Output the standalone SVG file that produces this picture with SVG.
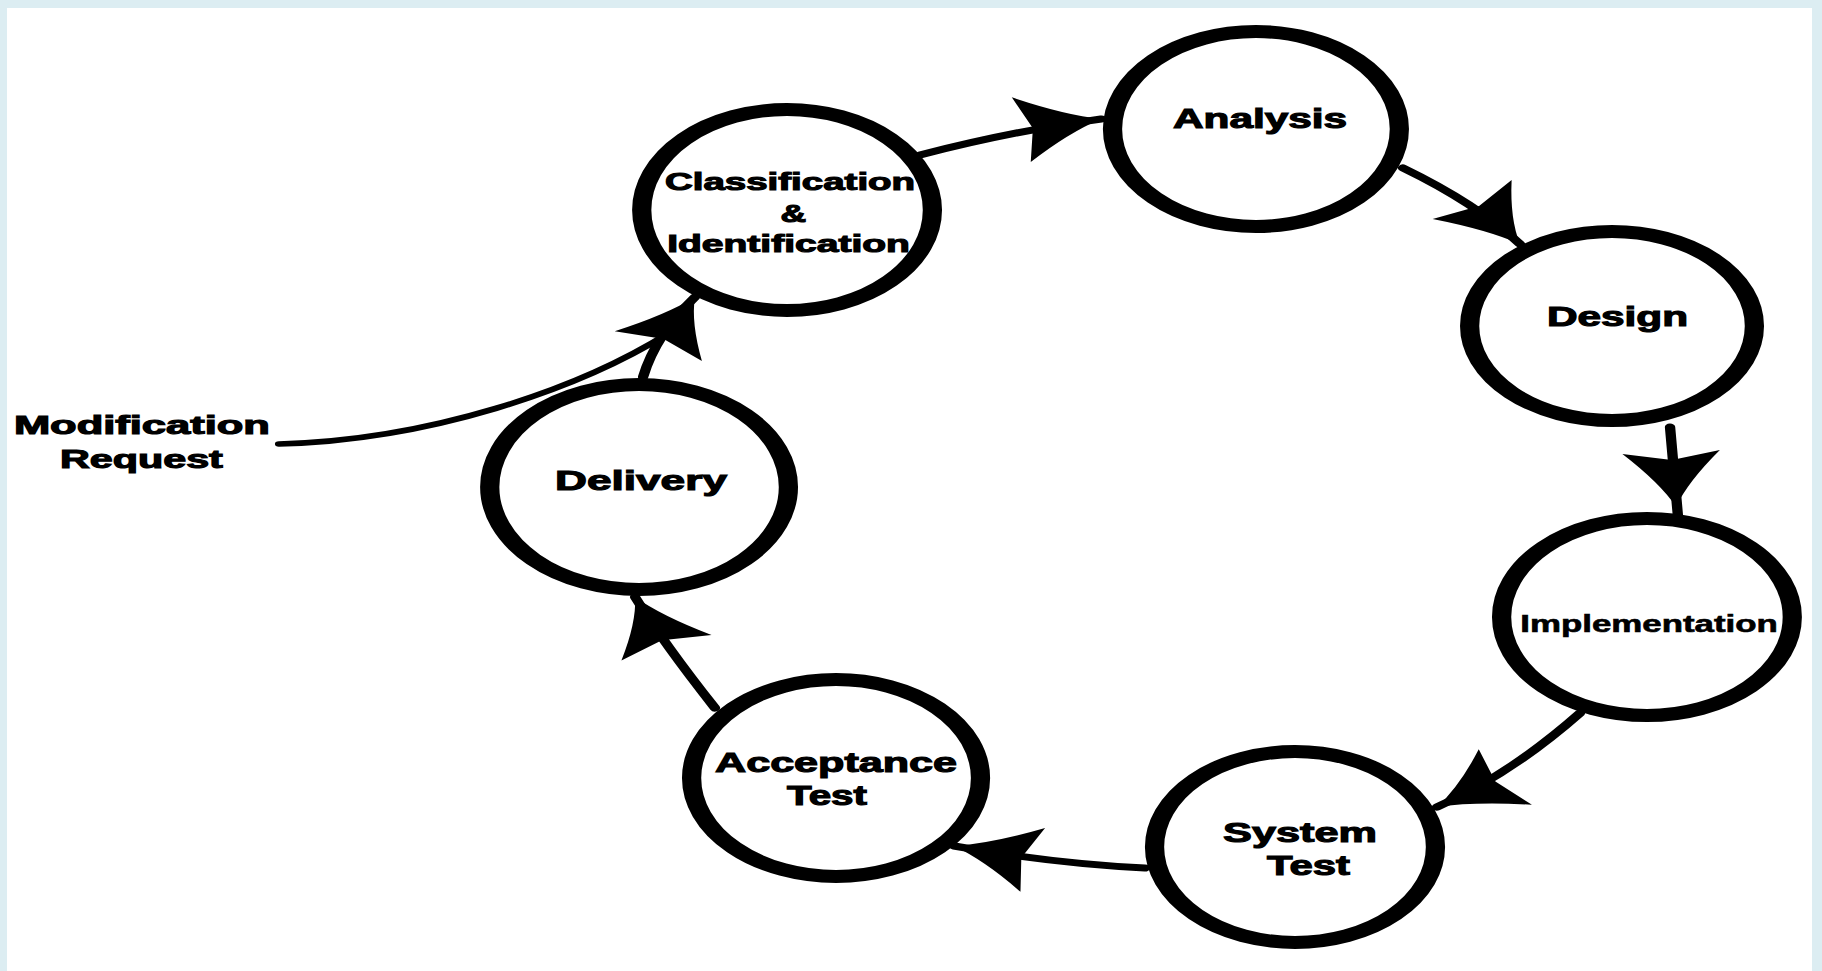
<svg xmlns="http://www.w3.org/2000/svg" xmlns:xlink="http://www.w3.org/1999/xlink" width="1822" height="971" viewBox="0 0 1822 971">
<style>
.node{fill:#fff;stroke:#000;stroke-width:13}
.edge{fill:none;stroke:#000;stroke-width:7;stroke-linecap:round}
.head{fill:#000;stroke:none}
.lbl{font-family:"Liberation Sans",Arial,sans-serif;font-weight:bold;font-size:27px;fill:#000;stroke:#000;stroke-width:1.1;text-anchor:middle}
.sm{font-size:24px}
</style>
<defs>
<path id="ah" d="M0,0 Q-24,-9 -55,-33 L-47,0 L-55,33 Q-24,9 0,0 Z"/>
</defs>
<rect width="1822" height="971" fill="#dcedf2"/>
<rect x="7" y="8" width="1805" height="963" fill="#fff"/>
<g transform="scale(1.48,1)">
<g id="connectors">
<path class="edge" d="M621.6,155 Q685.1,130.7 744,119"/>
<use class="head" xlink:href="#ah" transform="translate(744,119) rotate(-11.2)"/>
<path class="edge" d="M948,168 Q997.6,203.5 1027,244"/>
<use class="head" xlink:href="#ah" transform="translate(1027,244) rotate(54)"/>
<path class="edge" d="M1128.4,427 L1133.8,517"/>
<use class="head" xlink:href="#ah" transform="translate(1132.5,507) rotate(86.5)"/>
<path class="edge" d="M1067.6,713 Q1020,775 971,807"/>
<use class="head" xlink:href="#ah" transform="translate(971,807) rotate(147)"/>
<path class="edge" d="M773.6,868 Q712.4,863.6 644.6,846"/>
<use class="head" xlink:href="#ah" transform="translate(644.6,846) rotate(194.6)"/>
<path class="edge" d="M483.1,708 Q448.4,643.1 429.1,597"/>
<use class="head" xlink:href="#ah" transform="translate(429.1,597) rotate(-112.7)"/>
<path class="edge" d="M434.5,377 Q443,335 469.6,297"/>
<use class="head" xlink:href="#ah" transform="translate(469.6,297) rotate(-63.2)"/>
<path class="edge" style="stroke-width:5.5" d="M188.5,444 C290,440 390,390 452,333"/>
</g>
<g id="node-classification">
<ellipse class="node" cx="531.8" cy="210" rx="98.2" ry="100.5"/>
<text class="lbl sm" x="533.8" y="190" textLength="169" lengthAdjust="spacingAndGlyphs">Classification</text>
<text class="lbl sm" x="536" y="222">&amp;</text>
<text class="lbl sm" x="532.8" y="252" textLength="164" lengthAdjust="spacingAndGlyphs">Identification</text>
</g>
<g id="node-analysis">
<ellipse class="node" cx="848.6" cy="129" rx="96.9" ry="97.5"/>
<text class="lbl" x="851.4" y="128" textLength="117.6" lengthAdjust="spacingAndGlyphs">Analysis</text>
</g>
<g id="node-design">
<ellipse class="node" cx="1089.2" cy="326" rx="96.2" ry="94.5"/>
<text class="lbl" x="1092.9" y="326" textLength="95.3" lengthAdjust="spacingAndGlyphs">Design</text>
</g>
<g id="node-implementation">
<ellipse class="node" cx="1112.8" cy="617" rx="98.2" ry="98.5"/>
<text class="lbl" style="font-size:23px;stroke-width:0.6" x="1114.2" y="632" textLength="174" lengthAdjust="spacingAndGlyphs">Implementation</text>
</g>
<g id="node-system-test">
<ellipse class="node" cx="875" cy="847" rx="94.9" ry="95.5"/>
<text class="lbl" x="878.4" y="842" textLength="104" lengthAdjust="spacingAndGlyphs">System</text>
<text class="lbl" x="884.1" y="875" textLength="56" lengthAdjust="spacingAndGlyphs">Test</text>
</g>
<g id="node-acceptance-test">
<ellipse class="node" cx="564.9" cy="778" rx="97.6" ry="98.5"/>
<text class="lbl" x="564.9" y="772" textLength="163.5" lengthAdjust="spacingAndGlyphs">Acceptance</text>
<text class="lbl" x="558.8" y="805" textLength="54" lengthAdjust="spacingAndGlyphs">Test</text>
</g>
<g id="node-delivery">
<ellipse class="node" cx="431.8" cy="487" rx="100.9" ry="102.5"/>
<text class="lbl" x="433.1" y="490" textLength="116.2" lengthAdjust="spacingAndGlyphs">Delivery</text>
</g>
<g id="node-modification-request">
<text class="lbl" style="font-size:25px" x="95.9" y="434" textLength="173" lengthAdjust="spacingAndGlyphs">Modification</text>
<text class="lbl" style="font-size:25px" x="95.6" y="468" textLength="110" lengthAdjust="spacingAndGlyphs">Request</text>
</g>
</g>
</svg>
